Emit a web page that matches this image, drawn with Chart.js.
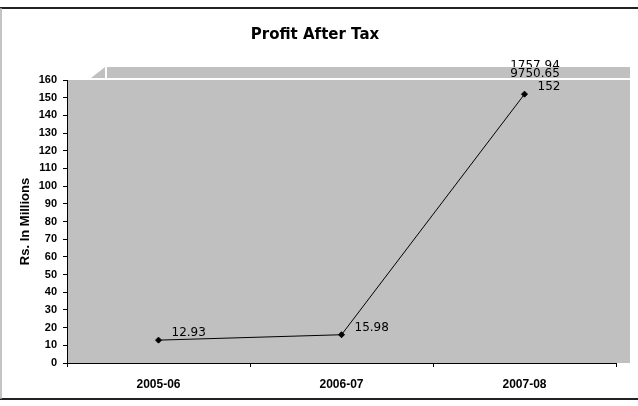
<!DOCTYPE html>
<html>
<head>
<meta charset="utf-8">
<script src="https://cdn.jsdelivr.net/npm/chart.js@4.4.1/dist/chart.umd.min.js"></script>
<style>
  html, body { margin: 0; padding: 0; background: #ffffff; }
  #wrap { width: 638px; height: 406px; }
</style>
</head>
<body>
<div id="wrap"><canvas id="c" width="638" height="406"></canvas></div>
<script>
// Financial years on the category axis
const years = ['2005-06', '2006-07', '2007-08'];
// Profit after tax, Rs. in millions
const profitAfterTax = [12.93, 15.98, 152];
// Value axis range and step
const yMin = 0;
const yMax = 160;
const yStep = 10;
// Figures printed in the upper band
const bandFigures = ['1757.94', '9750.65'];

const PLOT_GREY = '#c0c0c0';

// Page frame, grey plot area and the raised band above it
const backdrop = {
  id: 'backdrop',
  beforeDraw(chart) {
    const { ctx, chartArea: a, width, height } = chart;
    ctx.save();
    ctx.fillStyle = '#ffffff';
    ctx.fillRect(0, 0, width, height);

    // plot area, a little wider than the axis line
    ctx.fillStyle = PLOT_GREY;
    ctx.fillRect(a.left, a.top, a.right - a.left + 14, a.bottom - a.top);

    // figure partly hidden behind the band
    ctx.fillStyle = '#000000';
    ctx.font = '12px "DejaVu Sans"';
    ctx.textAlign = 'center';
    ctx.textBaseline = 'middle';
    ctx.fillText(bandFigures[0], a.right - 81, a.top - 14);

    // band with a slanted left end
    ctx.fillStyle = PLOT_GREY;
    ctx.beginPath();
    ctx.moveTo(a.left + 24, a.top - 2);
    ctx.lineTo(a.left + 38, a.top - 13);
    ctx.lineTo(a.right + 14, a.top - 13);
    ctx.lineTo(a.right + 14, a.top - 2);
    ctx.closePath();
    ctx.fill();
    ctx.fillStyle = '#ffffff';
    ctx.fillRect(a.left + 38, a.top - 13, 2, 11);

    ctx.fillStyle = '#000000';
    ctx.fillText(bandFigures[1], a.right - 81, a.top - 6);

    // outer frame
    ctx.strokeStyle = '#222222';
    ctx.lineWidth = 2;
    ctx.beginPath();
    ctx.moveTo(0, 8); ctx.lineTo(width, 8);
    ctx.moveTo(0, 399); ctx.lineTo(width, 399);
    ctx.stroke();
    ctx.strokeStyle = '#b0b0b0';
    ctx.lineWidth = 1.5;
    ctx.beginPath();
    ctx.moveTo(1, 8); ctx.lineTo(1, 399);
    ctx.stroke();
    ctx.restore();
  }
};

// Value labels beside each point
const valueLabels = {
  id: 'valueLabels',
  afterDatasetsDraw(chart) {
    const { ctx } = chart;
    const meta = chart.getDatasetMeta(0);
    ctx.save();
    ctx.fillStyle = '#000000';
    ctx.font = '12px "DejaVu Sans"';
    ctx.textAlign = 'left';
    ctx.textBaseline = 'middle';
    meta.data.forEach((pt, i) => {
      ctx.fillText(String(chart.data.datasets[0].data[i]), pt.x + 13, pt.y - 7);
    });
    ctx.restore();
  }
};

new Chart(document.getElementById('c'), {
  type: 'line',
  data: {
    labels: years,
    datasets: [{
      label: 'Profit After Tax',
      data: profitAfterTax,
      borderColor: '#000000',
      borderWidth: 1,
      backgroundColor: '#000000',
      pointStyle: 'rectRot',
      pointRadius: 3,
      pointHoverRadius: 3,
      tension: 0,
      fill: false
    }]
  },
  options: {
    responsive: false,
    animation: false,
    events: [],
    layout: { padding: { left: 14, right: 22, top: 8, bottom: 0 } },
    plugins: {
      legend: { display: false },
      tooltip: { enabled: false },
      title: {
        display: true,
        text: 'Profit After Tax',
        color: '#000000',
        font: { family: '"DejaVu Sans", sans-serif', size: 15, weight: 'bold' },
        padding: { top: 18, bottom: 36 }
      }
    },
    scales: {
      x: {
        offset: true,
        grid: {
          offset: true,
          drawOnChartArea: false,
          drawTicks: true,
          tickLength: 4,
          color: '#000000'
        },
        border: { display: true, color: '#000000', width: 1 },
        ticks: {
          color: '#000000',
          padding: 10,
          maxRotation: 0,
          font: { family: '"Liberation Sans", Arial, sans-serif', size: 12, weight: 'bold' }
        },
        afterFit(scale) { scale.height = 43; }
      },
      y: {
        min: yMin,
        max: yMax,
        grid: {
          drawOnChartArea: false,
          drawTicks: true,
          tickLength: 4,
          color: '#000000'
        },
        border: { display: true, color: '#000000', width: 1 },
        ticks: {
          stepSize: yStep,
          color: '#000000',
          padding: 6,
          font: { family: '"Liberation Sans", Arial, sans-serif', size: 11, weight: 'bold' }
        },
        title: {
          display: true,
          text: 'Rs. In Millions',
          color: '#000000',
          padding: { top: 4, bottom: 0 },
          font: { family: '"Liberation Sans", Arial, sans-serif', size: 13, weight: 'bold' }
        },
        afterFit(scale) { scale.width = 53; }
      }
    }
  },
  plugins: [backdrop, valueLabels]
});
</script>
</body>
</html>
